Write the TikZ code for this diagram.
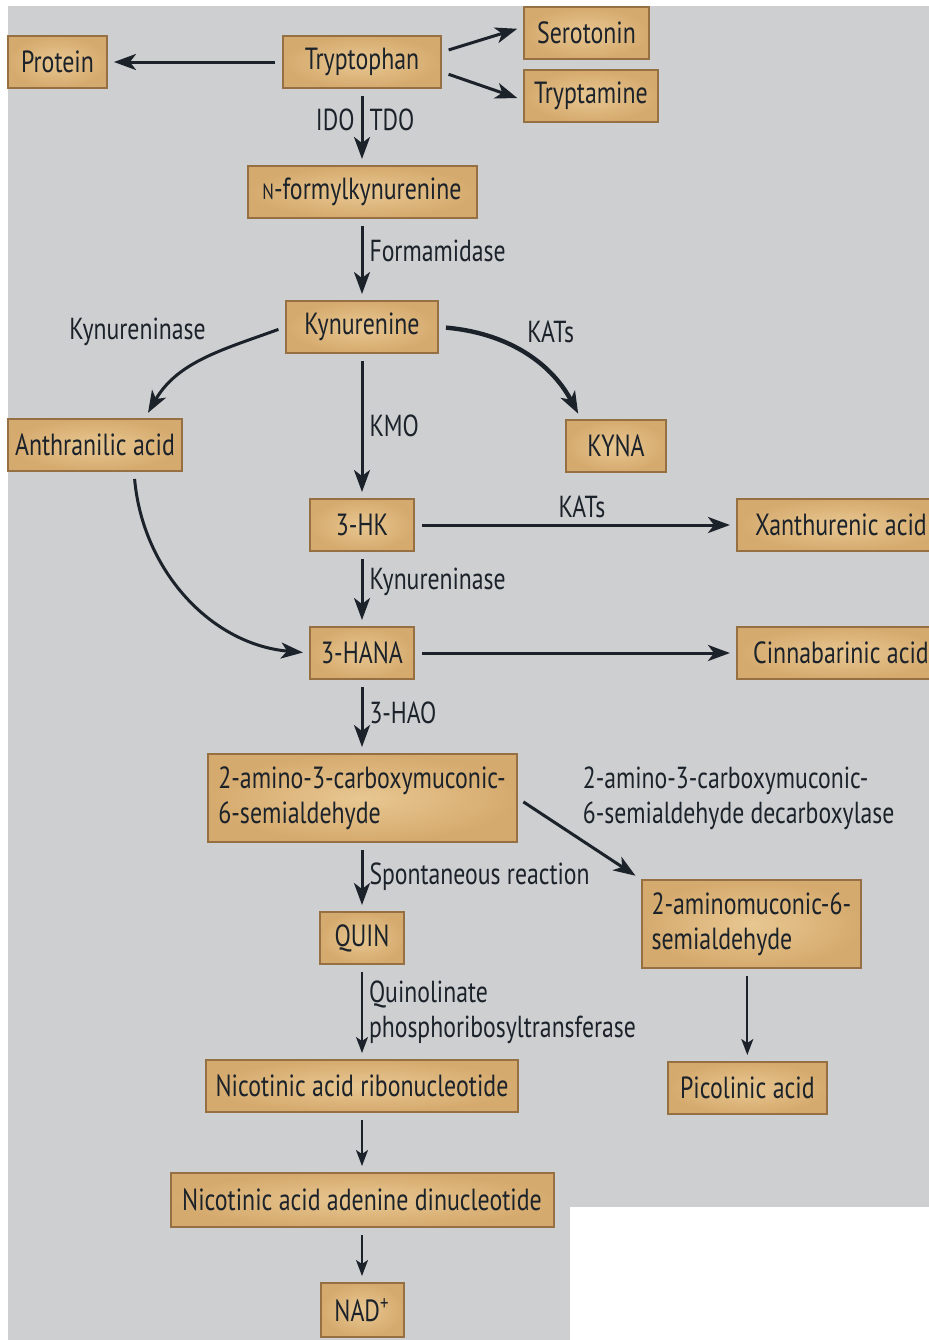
\documentclass[tikz,border=0pt]{standalone}
\usepackage{fontspec}
\setmainfont{PT Sans}[FakeStretch=0.78]
\usetikzlibrary{positioning,arrows.meta}

\definecolor{bggrey}{RGB}{206,207,209}
\definecolor{boxlight}{RGB}{232,199,145}
\definecolor{boxdark}{RGB}{213,170,110}
\definecolor{boxline}{RGB}{150,112,66}
\definecolor{ink}{RGB}{27,34,42}

\tikzset{
  metab/.style={draw=boxline, line width=1pt, inner color=boxlight,
    outer color=boxdark, minimum height=26pt, inner xsep=5pt,
    font=\fontsize{15.3}{17.5}\selectfont, text=ink},
  enz/.style={font=\fontsize{15.2}{17.5}\selectfont, text=ink, inner sep=3pt},
  flow/.style={-{Stealth[length=11pt,width=8pt,inset=3pt]}, draw=ink,
    line width=1.5pt, shorten <=3.5pt, shorten >=3pt},
  thinflow/.style={flow, line width=1pt,
    -{Stealth[length=8pt,width=6pt,inset=2pt]}},
}

\begin{document}
\begin{tikzpicture}
  \useasboundingbox (0,0) rectangle (464.5pt,-670pt);
  \clip (0,0) rectangle (464.5pt,-670pt);
  \fill[white] (0,0) rectangle (464.5pt,-670pt);
  \fill[bggrey] (4pt,-3pt) rectangle (464.5pt,-670pt);
  \fill[white] (285pt,-603.5pt) rectangle (464.5pt,-670pt);

  % metabolites
  \node[metab, minimum width=79pt] (trp) at (181pt,-31pt) {Tryptophan};
  \node[metab, minimum width=49.5pt] (prot) [left=87pt of trp] {Protein};
  \node[metab, minimum width=62.5pt] (sero) [right=40.5pt of trp, yshift=14.5pt] {Serotonin};
  \node[metab, minimum width=64pt] (trpa) [right=40.5pt of trp, yshift=-17pt] {Tryptamine};
  \node[metab, minimum width=114.5pt] (nfk) [below=38pt of trp] {{\fontsize{11}{12}\selectfont N}-formylkynurenine};
  \node[metab, minimum width=76pt] (kyn) [below=40.5pt of nfk] {Kynurenine};
  \node[metab, minimum width=87pt, inner xsep=3pt] (anth) [below left=32pt and 51pt of kyn] {Anthranilic acid};
  \node[metab, minimum width=50pt] (kyna) [below right=32.5pt and 63pt of kyn] {KYNA};
  \node[metab, minimum width=52pt] (hk) [below=72pt of kyn] {3-HK};
  \node[metab, minimum width=104pt] (xan) [right=160.5pt of hk] {Xanthurenic acid};
  \node[metab, minimum width=52pt] (hana) [below=37pt of hk] {3-HANA};
  \node[metab, minimum width=104pt] (cinn) [right=160.5pt of hana] {Cinnabarinic acid};
  \node[metab, minimum width=154.5pt, minimum height=44pt, align=left] (acms) [below=36.5pt of hana] {2-amino-3-carboxymuconic-\\6-semialdehyde};
  \node[metab, minimum width=108.5pt, minimum height=44pt, align=left] (amsa) [below right=18pt and 61.5pt of acms] {2-aminomuconic-6-\\semialdehyde};
  \node[metab, minimum width=42pt] (quin) [below=34pt of acms] {QUIN};
  \node[metab, minimum width=155pt] (nar) [below=47pt of quin] {Nicotinic acid ribonucleotide};
  \node[metab, minimum width=79.5pt] (pic) [below=46pt of amsa, xshift=-2pt] {Picolinic acid};
  \node[metab, minimum width=191.5pt, minimum height=27pt] (naad) [below=29.5pt of nar] {Nicotinic acid adenine dinucleotide};
  \node[metab, minimum width=41.5pt, minimum height=27pt] (nad) [below=27pt of naad] {NAD\textsuperscript{+}};

  % enzyme labels off the arrows
  \node[enz] (kynase) [left=36.5pt of kyn, yshift=-2.5pt] {Kynureninase};
  \node[enz] (kats) [right=41pt of kyn, yshift=-2.5pt] {KATs};
  \node[enz, align=left] (acmsd) [right=29.5pt of acms] {2-amino-3-carboxymuconic-\\6-semialdehyde decarboxylase};

  % reactions
  \draw[flow] (trp) -- (prot);
  \draw[flow] ([yshift=5pt]trp.east) -- ([yshift=3pt]sero.west);
  \draw[flow] ([yshift=-5pt]trp.east) -- ([yshift=-2pt]trpa.west);
  \draw[flow] (trp) -- node[enz, left, pos=0.4] {IDO} node[enz, right, pos=0.4] {TDO} (nfk);
  \draw[flow] (nfk) -- node[enz, right, pos=0.4] {Formamidase} (kyn);
  \draw[flow] (kyn.west) to[out=200, in=60] ([xshift=25pt]anth.north);
  \draw[flow, line width=2.2pt] (kyn.east) to[out=-5, in=118] ([xshift=-17.5pt]kyna.north);
  \draw[flow] (kyn) -- node[enz, right] {KMO} (hk);
  \draw[flow] (hk) -- node[enz, above, pos=0.52] {KATs} (xan);
  \draw[flow] (hk) -- node[enz, right, pos=0.4] {Kynureninase} (hana);
  \draw[flow] ([xshift=19.5pt]anth.south) to[out=-85, in=175] (hana.west);
  \draw[flow] (hana) -- (cinn);
  \draw[flow] (hana) -- node[enz, right, pos=0.45] {3-HAO} (acms);
  \draw[flow] (acms.east) -- (amsa.north west);
  \draw[flow] (acms) -- node[enz, right] {Spontaneous reaction} (quin);
  \draw[thinflow] (quin) -- node[enz, right, align=left] {Quinolinate\\phosphoribosyltransferase} (nar);
  \draw[thinflow] (pic.north |- amsa.south) -- (pic);
  \draw[thinflow] (nar) -- (naad);
  \draw[thinflow] (naad) -- (nad);
\end{tikzpicture}
\end{document}
